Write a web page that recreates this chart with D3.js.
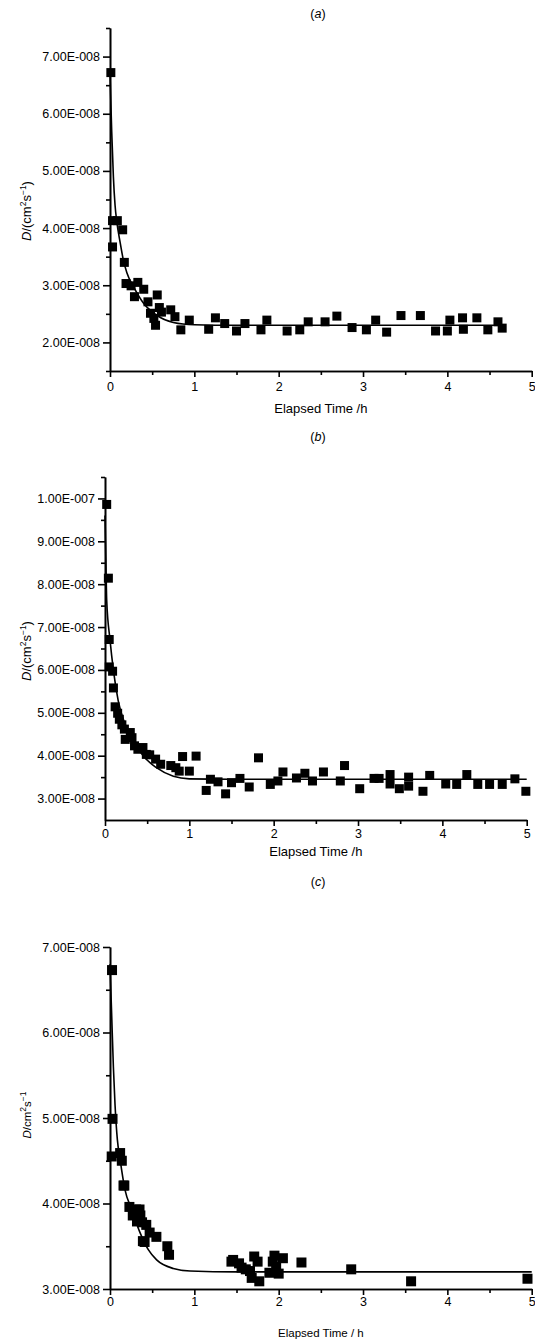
<!DOCTYPE html>
<html>
<head>
<meta charset="utf-8">
<script src="https://cdn.jsdelivr.net/npm/d3@7"></script>
<style>
  body { margin: 0; background: #fff; }
  svg { display: block; font-family: "Liberation Sans", Arial, sans-serif; }
</style>
</head>
<body>
<div id="chart"></div>
<script>
// panel (a) measured points
var timeA = [0.01, 0.03, 0.03, 0.087, 0.15, 0.17, 0.19, 0.25, 0.29, 0.33, 0.40, 0.45, 0.48, 0.52, 0.54, 0.56, 0.585, 0.61, 0.72, 0.77, 0.84, 0.94, 1.17, 1.25, 1.36, 1.50, 1.60, 1.79, 1.86, 2.10, 2.25, 2.35, 2.55, 2.69, 2.87, 3.04, 3.15, 3.28, 3.45, 3.68, 3.86, 4.00, 4.03, 4.18, 4.19, 4.35, 4.48, 4.60, 4.65];
var diffA = [6.72, 3.67, 4.13, 4.13, 3.97, 3.40, 3.03, 2.99, 2.80, 3.05, 2.93, 2.71, 2.51, 2.42, 2.30, 2.83, 2.61, 2.53, 2.57, 2.45, 2.22, 2.39, 2.23, 2.43, 2.33, 2.20, 2.33, 2.22, 2.39, 2.20, 2.22, 2.36, 2.36, 2.46, 2.26, 2.22, 2.39, 2.18, 2.47, 2.47, 2.20, 2.20, 2.39, 2.43, 2.23, 2.43, 2.22, 2.36, 2.25];
// panel (a) fitted line
var fitTimeA = [0, 0.02, 0.04, 0.06, 0.08, 0.12, 0.16, 0.2, 0.28, 0.4, 0.55, 0.75, 1.0, 1.5, 2, 3, 4, 4.65];
var fitDiffA = [6.70, 5.70, 4.90, 4.40, 4.12, 3.75, 3.43, 3.22, 2.97, 2.68, 2.48, 2.35, 2.31, 2.30, 2.30, 2.30, 2.30, 2.30];

// panel (b)
var timeB = [0.02, 0.04, 0.05, 0.05, 0.09, 0.10, 0.12, 0.15, 0.17, 0.20, 0.23, 0.24, 0.30, 0.32, 0.35, 0.39, 0.45, 0.49, 0.53, 0.60, 0.66, 0.78, 0.84, 0.88, 0.92, 1.00, 1.08, 1.20, 1.25, 1.34, 1.43, 1.50, 1.60, 1.71, 1.82, 1.96, 2.05, 2.11, 2.27, 2.37, 2.46, 2.59, 2.79, 2.84, 3.02, 3.19, 3.25, 3.38, 3.38, 3.49, 3.60, 3.60, 3.77, 3.85, 4.04, 4.17, 4.29, 4.42, 4.56, 4.71, 4.86, 4.99];
var diffB = [9.86, 8.14, 6.71, 6.07, 5.97, 5.58, 5.14, 4.99, 4.85, 4.72, 4.62, 4.38, 4.54, 4.42, 4.23, 4.15, 4.19, 4.03, 4.02, 3.92, 3.80, 3.77, 3.72, 3.64, 3.98, 3.64, 3.99, 3.19, 3.45, 3.39, 3.11, 3.37, 3.47, 3.27, 3.95, 3.33, 3.41, 3.62, 3.48, 3.59, 3.41, 3.62, 3.41, 3.77, 3.23, 3.47, 3.47, 3.56, 3.34, 3.23, 3.50, 3.29, 3.17, 3.54, 3.34, 3.33, 3.56, 3.33, 3.33, 3.33, 3.46, 3.17];
var fitTimeB = [0, 0.01, 0.02, 0.06, 0.1, 0.157, 0.237, 0.336, 0.455, 0.61, 0.81, 1.0, 1.5, 2, 3, 4, 5];
var fitDiffB = [9.60, 8.60, 7.63, 6.69, 5.99, 5.28, 4.74, 4.35, 3.99, 3.72, 3.52, 3.46, 3.45, 3.45, 3.45, 3.45, 3.45];

// panel (c)
var timeC = [0.024, 0.03, 0.02, 0.12, 0.14, 0.16, 0.17, 0.23, 0.27, 0.31, 0.32, 0.35, 0.36, 0.38, 0.39, 0.41, 0.43, 0.47, 0.55, 0.68, 0.70, 1.44, 1.46, 1.53, 1.56, 1.61, 1.66, 1.68, 1.71, 1.75, 1.77, 1.89, 1.93, 1.95, 1.97, 2.00, 2.05, 2.27, 2.86, 3.57, 4.95];
var diffC = [6.73, 4.99, 4.55, 4.59, 4.50, 4.21, 4.21, 3.96, 3.86, 3.93, 3.79, 3.93, 3.86, 3.78, 3.56, 3.55, 3.75, 3.66, 3.61, 3.50, 3.40, 3.32, 3.34, 3.30, 3.25, 3.23, 3.21, 3.13, 3.38, 3.32, 3.09, 3.19, 3.32, 3.39, 3.26, 3.18, 3.36, 3.31, 3.23, 3.09, 3.12];
var fitTimeC = [0, 0.02, 0.04, 0.06, 0.087, 0.119, 0.178, 0.257, 0.356, 0.454, 0.553, 0.75, 0.95, 1.5, 2, 3, 4, 5];
var fitDiffC = [6.80, 6.20, 5.60, 5.15, 4.75, 4.52, 4.16, 3.93, 3.66, 3.46, 3.34, 3.24, 3.21, 3.20, 3.20, 3.20, 3.20, 3.20];

var xTicks = [0, 1, 2, 3, 4, 5];
var xMinor = [0.5, 1.5, 2.5, 3.5, 4.5];

var svg = d3.select("#chart")
  .append("svg")
  .attr("width", 535)
  .attr("height", 1339);

// 7e-8 -> "7.00E-008"
function sci(v) {
  var e = Math.floor(Math.log10(v) + 1e-9);
  var m = v / Math.pow(10, e);
  return m.toFixed(2) + "E-" + String(-e).padStart(3, "0");
}

function drawPanel(p) {
  var x = d3.scaleLinear().domain([0, 5]).range([p.left, p.right]);
  var y = d3.scaleLinear().domain(p.yDomain).range([p.bottom, p.top]);

  var g = svg.append("g");

  // minor ticks
  g.append("g")
    .attr("transform", `translate(${p.left},0)`)
    .call(d3.axisLeft(y).tickValues(p.yMinor).tickSize(4).tickSizeOuter(0).tickFormat(""));
  g.append("g")
    .attr("transform", `translate(0,${p.bottom})`)
    .call(d3.axisBottom(x).tickValues(xMinor).tickSize(4).tickSizeOuter(0).tickFormat(""));

  // major ticks
  g.append("g")
    .attr("transform", `translate(${p.left},0)`)
    .call(d3.axisLeft(y).tickValues(p.yTicks).tickSize(7).tickSizeOuter(0).tickPadding(3).tickFormat(sci));
  g.append("g")
    .attr("transform", `translate(0,${p.bottom})`)
    .call(d3.axisBottom(x).tickValues(xTicks).tickSize(6).tickSizeOuter(0).tickPadding(p.xPad).tickFormat(d3.format("d")));

  g.selectAll(".domain, .tick line").attr("stroke", "#000").attr("stroke-width", 1.6);
  g.selectAll(".tick text")
    .attr("fill", "#000")
    .attr("font-size", "12.5px")
    .attr("font-family", "Liberation Sans, Arial, sans-serif");

  // fitted curve
  var fit = p.fitT.map((t, i) => [t, p.fitD[i] * 1e-8]);
  g.append("path")
    .datum(fit)
    .attr("fill", "none")
    .attr("stroke", "#000")
    .attr("stroke-width", 1.6)
    .attr("d", d3.line().x(d => x(d[0])).y(d => y(d[1])).curve(d3.curveMonotoneX));

  // measured points
  var pts = p.t.map((t, i) => [t, p.d[i] * 1e-8]);
  g.append("g")
    .selectAll("rect")
    .data(pts)
    .enter()
    .append("rect")
    .attr("x", d => x(d[0]) - p.ms / 2)
    .attr("y", d => y(d[1]) - p.ms / 2)
    .attr("width", p.ms)
    .attr("height", p.ms)
    .attr("fill", "#000");

  // panel title (a) / (b) / (c)
  var title = g.append("text")
    .attr("x", 318)
    .attr("y", p.titleY)
    .attr("text-anchor", "middle")
    .attr("font-size", "12.5px");
  title.append("tspan").text("(");
  title.append("tspan").attr("font-style", "italic").text(p.letter);
  title.append("tspan").text(")");

  // x label
  g.append("text")
    .attr("x", (p.left + p.right) / 2)
    .attr("y", p.xLabelY)
    .attr("text-anchor", "middle")
    .attr("font-size", p.labelSize)
    .text(p.xLabel);

  // y label
  var yl = g.append("text")
    .attr("transform", `translate(${p.yLabelX},${p.yLabelY}) rotate(-90)`)
    .attr("text-anchor", "middle")
    .attr("font-size", p.labelSize);
  yl.append("tspan").attr("font-style", "italic").text("D");
  yl.append("tspan").text(p.paren ? "/(cm" : "/cm");
  yl.append("tspan").attr("dy", "-5").attr("font-size", "8.5px").text("2");
  yl.append("tspan").attr("dy", "5").text("s");
  yl.append("tspan").attr("dy", "-5").attr("font-size", "8.5px").text("\u22121");
  if (p.paren) yl.append("tspan").attr("dy", "5").text(")");
}

drawPanel({
  letter: "a", titleY: 18,
  left: 110, right: 531.7, top: 28, bottom: 371,
  yDomain: [1.5e-8, 7.5e-8],
  yTicks: [2e-8, 3e-8, 4e-8, 5e-8, 6e-8, 7e-8],
  yMinor: [1.5e-8, 2.5e-8, 3.5e-8, 4.5e-8, 5.5e-8, 6.5e-8, 7.5e-8],
  t: timeA, d: diffA, fitT: fitTimeA, fitD: fitDiffA,
  ms: 9, xPad: 5, xLabel: "Elapsed Time /h", xLabelY: 413,
  yLabelX: 31, yLabelY: 211, labelSize: "13px", paren: true
});

drawPanel({
  letter: "b", titleY: 441,
  left: 105, right: 526.7, top: 477, bottom: 820,
  yDomain: [2.5e-8, 1.05e-7],
  yTicks: [3e-8, 4e-8, 5e-8, 6e-8, 7e-8, 8e-8, 9e-8, 1e-7],
  yMinor: [3.5e-8, 4.5e-8, 5.5e-8, 6.5e-8, 7.5e-8, 8.5e-8, 9.5e-8, 1.05e-7],
  t: timeB, d: diffB, fitT: fitTimeB, fitD: fitDiffB,
  ms: 9, xPad: 3, xLabel: "Elapsed Time /h", xLabelY: 856,
  yLabelX: 31, yLabelY: 651, labelSize: "13px", paren: true
});

drawPanel({
  letter: "c", titleY: 886,
  left: 110, right: 531.7, top: 947, bottom: 1289,
  yDomain: [3e-8, 7e-8],
  yTicks: [3e-8, 4e-8, 5e-8, 6e-8, 7e-8],
  yMinor: [3.5e-8, 4.5e-8, 5.5e-8, 6.5e-8],
  t: timeC, d: diffC, fitT: fitTimeC, fitD: fitDiffC,
  ms: 10, xPad: 2, xLabel: "Elapsed Time / h", xLabelY: 1337,
  yLabelX: 31, yLabelY: 1115, labelSize: "11.5px", paren: false
});
</script>
</body>
</html>
